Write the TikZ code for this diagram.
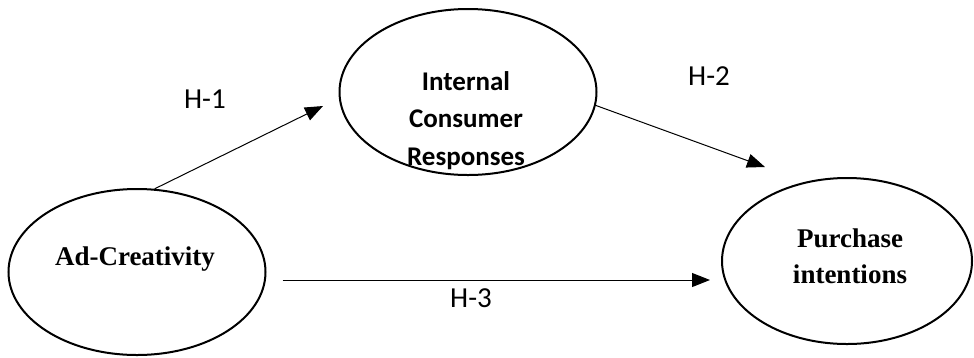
\documentclass[tikz,border=0pt]{standalone}
\usepackage{fontspec}
\setmainfont{Liberation Serif}
\newfontfamily\calibri{Carlito}
\usetikzlibrary{shapes.geometric,arrows.meta}

\begin{document}
\begin{tikzpicture}[x=1pt,y=-1pt,
  construct/.style={ellipse,draw,line width=2pt,minimum width=257pt,minimum height=166pt,inner sep=0pt},
  link/.style={line width=1pt,-{Triangle[length=18pt,width=14pt]}},
  hyp/.style={inner sep=0pt,font=\calibri\fontsize{29}{33}\selectfont},
  serifname/.style={inner sep=0pt,align=center,font=\bfseries\fontsize{27}{36}\selectfont},
  sansname/.style={inner sep=0pt,align=center,font=\calibri\bfseries\fontsize{27}{37.5}\selectfont}]
\useasboundingbox (0,0) rectangle (974,357);
\node (ad) [construct] at (137,272) {};
\node (icr) [construct] at (468,92) {};
\node (pi) [construct,minimum width=250pt] at (847,261) {};
\node (adtext) [serifname,anchor=base] at (135,265) {Ad-Creativity};
\node (icrtext) [sansname,anchor=north] at (466,71) {Internal\\Consumer\\Responses};
\node (pitext) [serifname,anchor=north] at (850,229) {Purchase\\intentions};
\coordinate (h1tip) at (323,106);
\coordinate (h2tip) at (765,167);
\coordinate (h3tip) at (710,280);
\draw [link] (ad.78) -- (h1tip);
\draw [link] (icr.-6) -- (h2tip);
\draw [link,shorten <=16pt] (ad.east |- h3tip) -- (h3tip);
\node (h1) [hyp] at (205,99) {H-1};
\node (h2) [hyp] at (709,76) {H-2};
\node (h3) [hyp] at (471,298) {H-3};
\end{tikzpicture}
\end{document}
